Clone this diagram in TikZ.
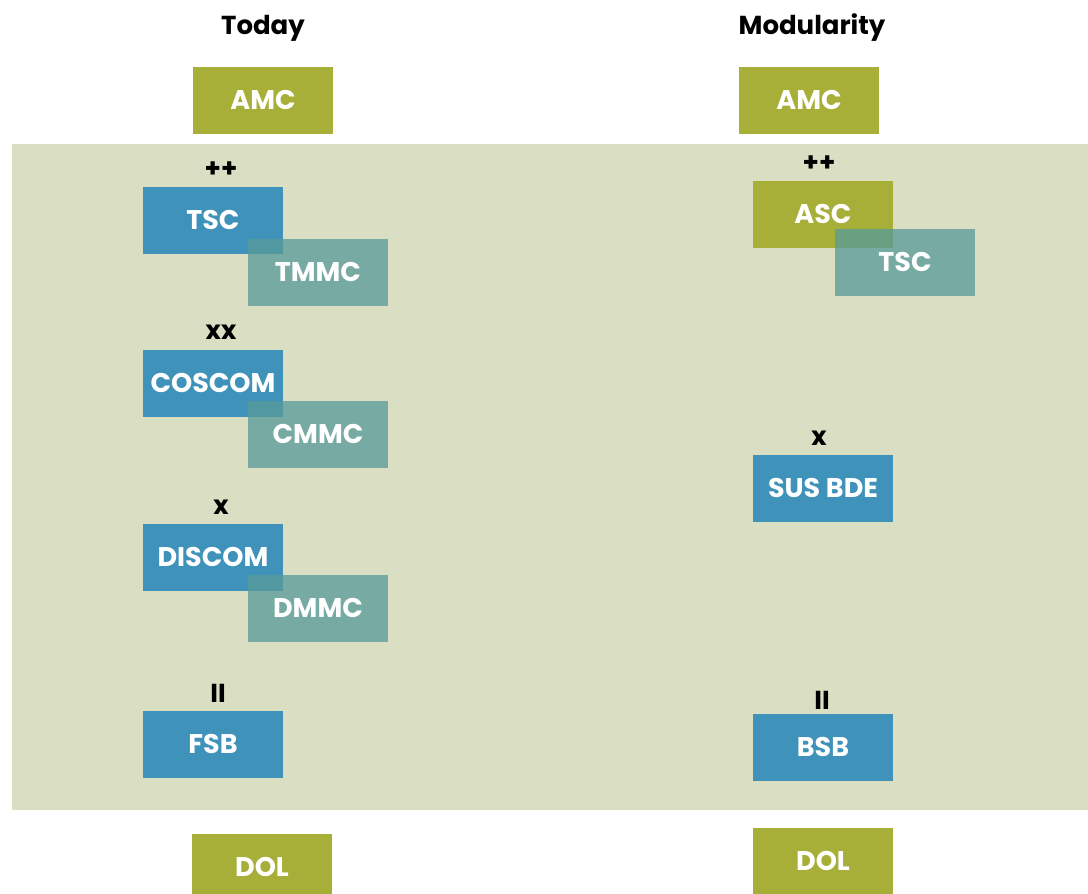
\documentclass[tikz,border=0pt]{standalone}
\usepackage{fontspec}
\setmainfont{Poppins}
\definecolor{hqgreen}{HTML}{A8AF38}
\definecolor{unitblue}{HTML}{3F93BA}
\definecolor{mmcteal}{RGB}{89,154,152}
\definecolor{areabg}{HTML}{DADEC3}
\tikzset{
  unit/.style={fill=unitblue, text=white, minimum width=70pt, minimum height=33.5pt,
    inner sep=0pt, font=\bfseries\fontsize{13.5}{14}\selectfont},
  hq/.style={unit, fill=hqgreen},
  mmc/.style={unit, fill=mmcteal, fill opacity=0.76, text opacity=1},
  rating/.style={font=\bfseries\fontsize{13}{13}\selectfont},
  coltitle/.style={font=\bfseries\fontsize{13}{13}\selectfont}
}
\begin{document}
\begin{tikzpicture}[x=0.5pt,y=-0.5pt]
	\useasboundingbox (0,0) rectangle (1088,894);
	\clip (0,0) rectangle (1088,894);
	\fill[areabg] (12,144) rectangle (1088,810);
	% today
	\node[coltitle] (today) at (263,28)  {Today};
	\node[hq]   (amc0)  at (263,100)  {AMC};
	\node[unit] (tsc0)  at (213,220)  {TSC};
	\node[mmc]  (tmmc)  at (318,272)  {TMMC};
	\node[unit] (coscom) at (213,383) {COSCOM};
	\node[mmc]  (cmmc)  at (318,434)  {CMMC};
	\node[unit] (discom) at (213,557) {DISCOM};
	\node[mmc]  (dmmc)  at (318,608)  {DMMC};
	\node[unit] (fsb)   at (213,744)  {FSB};
	\node[hq]   (dol0)  at (262,867)  {DOL};
	% modularity
	\node[coltitle] (modul) at (812,28) {Modularity};
	\node[hq]   (amc1)  at (809,100)  {AMC};
	\node[hq]   (asc)   at (823,214)  {ASC};
	\node[mmc]  (tsc1)  at (905,262)  {TSC};
	\node[unit] (susbde) at (823,488) {SUS BDE};
	\node[unit] (bsb)   at (823,747)  {BSB};
	\node[hq]   (dol1)  at (823,861)  {DOL};

	\def\ratings {221/170/++, 221/332/xx, 221/507/x, 218/693/II,
	819/164/++, 819/438/x, 822/700/II}  % x/y/text
	\foreach \x/\y/\r in \ratings
	{	\node[rating] (r-\x-\y) at (\x,\y) {\r};
	}
\end{tikzpicture}
\end{document}
